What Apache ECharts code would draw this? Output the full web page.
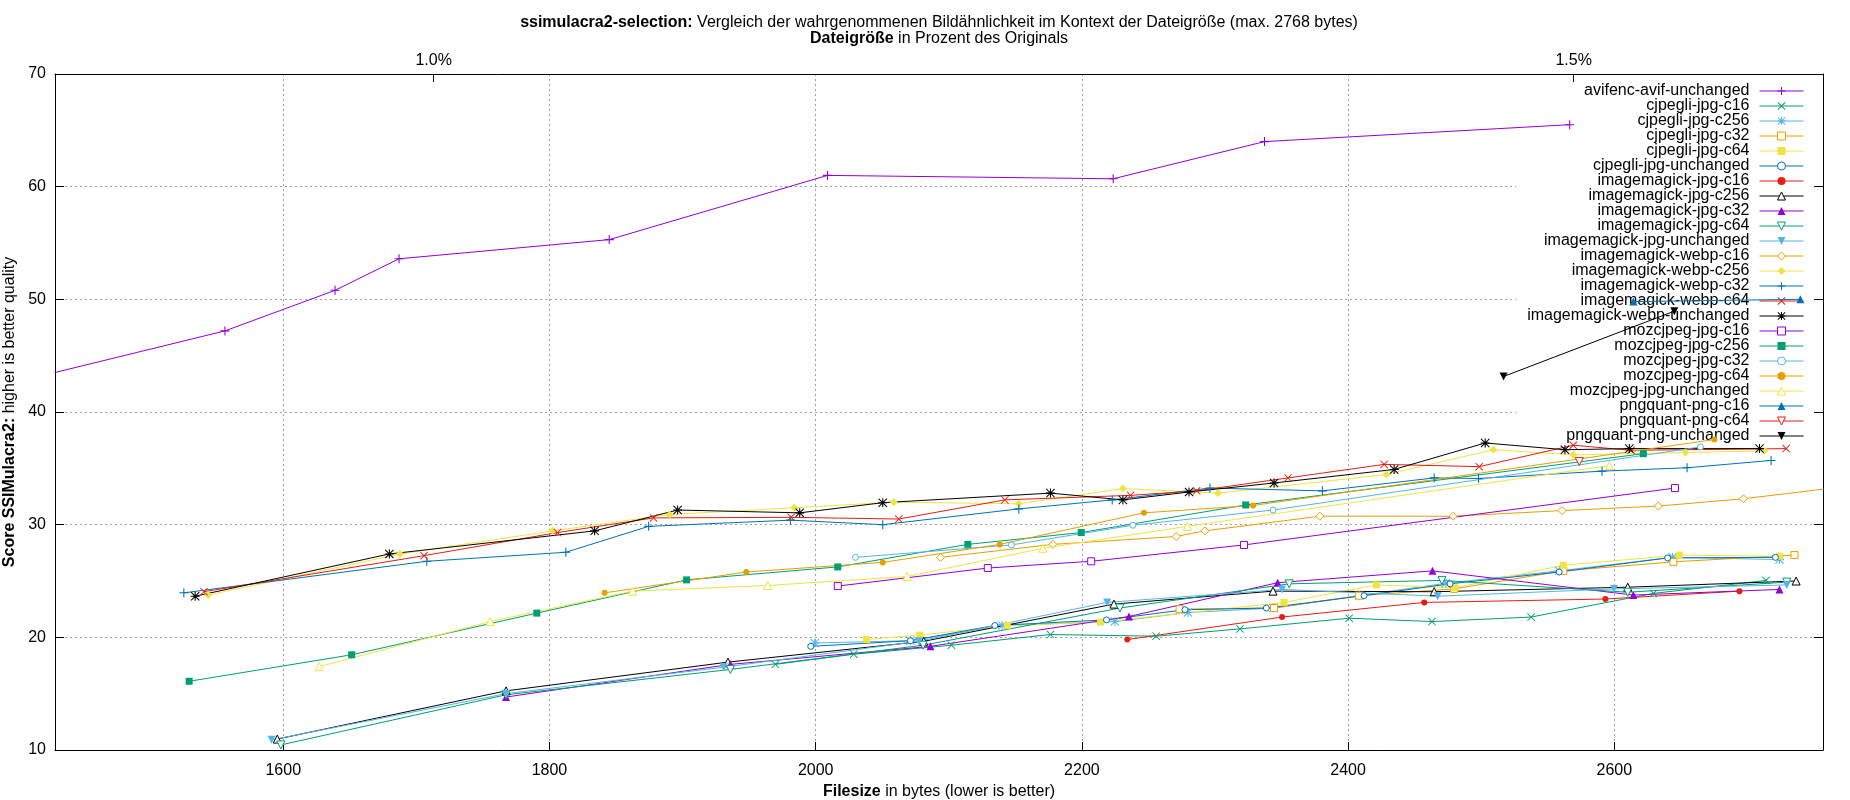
<!DOCTYPE html>
<html>
<head>
<meta charset="utf-8">
<title>ssimulacra2-selection</title>
<script src="https://cdn.jsdelivr.net/npm/echarts@6/dist/echarts.min.js"></script>
<style>
    html, body { margin: 0; padding: 0; background: #fff; }
    #chart { width: 1850px; height: 800px; }
</style>
</head>
<body>
<div id="chart"></div>
<script>
// size of the original image in bytes, for the percent axis on top
const originalBytes = 171300;
const percentTicks = [1.0, 1.5];

const seriesNames = [
    'avifenc-avif-unchanged',
    'cjpegli-jpg-c16', 'cjpegli-jpg-c256', 'cjpegli-jpg-c32', 'cjpegli-jpg-c64', 'cjpegli-jpg-unchanged',
    'imagemagick-jpg-c16', 'imagemagick-jpg-c256', 'imagemagick-jpg-c32', 'imagemagick-jpg-c64', 'imagemagick-jpg-unchanged',
    'imagemagick-webp-c16', 'imagemagick-webp-c256', 'imagemagick-webp-c32', 'imagemagick-webp-c64', 'imagemagick-webp-unchanged',
    'mozcjpeg-jpg-c16', 'mozcjpeg-jpg-c256', 'mozcjpeg-jpg-c32', 'mozcjpeg-jpg-c64', 'mozcjpeg-jpg-unchanged',
    'pngquant-png-c16', 'pngquant-png-c64', 'pngquant-png-unchanged'
];

// [filesize in bytes, ssimulacra2 score]
const avifencAvifUnchanged = [[1428.3, 43.5], [1556.2, 47.2], [1638.9, 50.8], [1687.0, 53.6], [1844.9, 55.3], [2008.9, 61.0], [2223.5, 60.7], [2337.2, 64.0], [2566.5, 65.5]];
const cjpegliJpgC16 = [[1969.7, 17.6], [2028.6, 18.5], [2102, 19.3], [2176.4, 20.25], [2255.8, 20.1], [2318.8, 20.75], [2400.8, 21.7], [2463, 21.4], [2537.5, 21.8], [2629.5, 23.9], [2714, 25.05]];
const cjpegliJpgC256 = [[1999.3, 19.5], [2071.2, 19.7], [2140.1, 21.05], [2224.8, 21.4], [2279.7, 22.2], [2343.9, 22.6], [2408.3, 23.7], [2473.5, 24.8], [2558.6, 25.9], [2643.8, 27.1], [2724.1, 26.9]];
const cjpegliJpgC32 = [[2273.4, 22.5], [2344.4, 22.6], [2408.3, 23.7], [2479.7, 24.3], [2561.7, 25.9], [2644.4, 26.7], [2735.4, 27.3]];
const cjpegliJpgC64 = [[2038.1, 19.8], [2078.2, 20.2], [2143.9, 21.05], [2214, 21.35], [2351.9, 23.1], [2421.3, 24.65], [2480.2, 24.4], [2561.7, 26.4], [2648.9, 27.3], [2724.1, 27.2]];
const cjpegliJpgUnchanged = [[1996.3, 19.2], [2071.2, 19.7], [2134.6, 21.05], [2218.5, 21.55], [2277.4, 22.45], [2338.6, 22.6], [2412, 23.7], [2476.6, 24.75], [2558.6, 25.8], [2640.1, 27.05], [2721.1, 27.1]];
const imagemagickJpgC16 = [[2234.1, 19.8], [2350.4, 21.8], [2457.2, 23.1], [2593.3, 23.4], [2694, 24.1]];
const imagemagickJpgC256 = [[1595.5, 10.97], [1767.4, 15.25], [1934.1, 17.8], [2081.2, 19.65], [2224.1, 22.95], [2343.6, 24.1], [2464.7, 24.05], [2610.1, 24.45], [2736.6, 25.0]];
const imagemagickJpgC32 = [[1767.4, 14.7], [1935.9, 17.6], [2086.2, 19.2], [2235.4, 21.85], [2347.1, 24.85], [2463.4, 25.9], [2614.3, 23.75], [2724.1, 24.25]];
const imagemagickJpgC64 = [[1598.2, 10.45], [1767.4, 14.9], [1935.9, 17.15], [2080.7, 19.3], [2228.6, 22.6], [2355.7, 24.75], [2470.5, 25.05], [2610.1, 24.0], [2729.6, 24.9]];
const imagemagickJpgUnchanged = [[1591.2, 10.9], [1767.4, 15.0], [1930.9, 17.35], [2077.5, 19.65], [2219, 23.1], [2350.4, 24.25], [2467.3, 23.65], [2599.8, 24.3], [2729.6, 24.65]];
const imagemagickWebpC16 = [[2093.8, 27.1], [2178.2, 28.25], [2270.9, 28.95], [2292.5, 29.45], [2378.7, 30.75], [2479, 30.75], [2560.7, 31.25], [2633.1, 31.65], [2697, 32.3], [2757.2, 33.15]];
const imagemagickWebpC256 = [[1543.6, 23.75], [1687.7, 27.4], [1802.3, 29.45], [1890.3, 30.9], [1984, 31.5], [2058.7, 32.0], [2152.6, 31.85], [2230.8, 33.2], [2302.3, 32.8], [2428.8, 34.45], [2509.1, 36.65], [2569.2, 36.2], [2653.4, 36.4], [2712.8, 36.55]];
const imagemagickWebpC32 = [[1525.3, 23.95], [1707.8, 26.75], [1812.3, 27.55], [1874.5, 29.85], [1981, 30.4], [2050.4, 30.0], [2152.6, 31.4], [2222.8, 32.2], [2296.2, 33.25], [2380.7, 33.0], [2464.7, 34.15], [2498, 34.1], [2590.8, 34.75], [2654.7, 35.05], [2717.8, 35.7]];
const imagemagickWebpC64 = [[1540.4, 24.05], [1705.8, 27.25], [1806, 29.3], [1878.2, 30.6], [1981.5, 30.65], [2062.4, 30.5], [2142.1, 32.2], [2236.6, 32.6], [2286.2, 33.0], [2354.9, 34.15], [2427.1, 35.35], [2498.5, 35.15], [2569.2, 37.05], [2612.6, 36.6], [2729.1, 36.75]];
const imagemagickWebpUnchanged = [[1533.8, 23.65], [1679.7, 27.4], [1833.9, 29.45], [1896.3, 31.3], [1988, 31.05], [2050.4, 31.95], [2176.4, 32.8], [2230.8, 32.2], [2280.5, 32.9], [2344.4, 33.7], [2434.6, 34.9], [2503, 37.25], [2562.9, 36.65], [2611.3, 36.75], [2709.1, 36.75]];
const mozcjpegJpgC16 = [[2016.6, 24.55], [2129.3, 26.15], [2207, 26.75], [2321.8, 28.2], [2645.6, 33.25]];
const mozcjpegJpgC256 = [[1529.3, 16.1], [1651.4, 18.45], [1790.5, 22.15], [1903, 25.1], [2016.6, 26.25], [2114.3, 28.25], [2199.5, 29.3], [2323.1, 31.75], [2621.8, 36.3]];
const mozcjpegJpgC32 = [[2029.9, 27.1], [2147.1, 28.2], [2238.3, 29.95], [2343.6, 31.3], [2664.7, 36.9]];
const mozcjpegJpgC64 = [[1841.4, 23.95], [1947.9, 25.8], [2050.4, 26.65], [2138.3, 28.25], [2246.6, 31.05], [2328.6, 31.7], [2675.2, 37.55]];
const mozcjpegJpgUnchanged = [[1627.1, 17.4], [1755.4, 21.4], [1862.4, 24.1], [1963.9, 24.6], [2068.7, 25.4], [2170.7, 27.9], [2279.2, 29.85], [2596.3, 35.25]];
const pngquantPngC16 = [[2614.3, 49.8], [2739.8, 50.0]];
const pngquantPngC64 = [[2573.7, 35.6]];
const pngquantPngUnchanged = [[2516.8, 43.15], [2645.1, 48.95]];

const seriesData = [
    avifencAvifUnchanged,
    cjpegliJpgC16, cjpegliJpgC256, cjpegliJpgC32, cjpegliJpgC64, cjpegliJpgUnchanged,
    imagemagickJpgC16, imagemagickJpgC256, imagemagickJpgC32, imagemagickJpgC64, imagemagickJpgUnchanged,
    imagemagickWebpC16, imagemagickWebpC256, imagemagickWebpC32, imagemagickWebpC64, imagemagickWebpUnchanged,
    mozcjpegJpgC16, mozcjpegJpgC256, mozcjpegJpgC32, mozcjpegJpgC64, mozcjpegJpgUnchanged,
    pngquantPngC16, pngquantPngC64, pngquantPngUnchanged
];

// gnuplot default line colours (cycle of 8) and point types (cycle of 13)
const colors = ['#9400d3', '#009e73', '#56b4e9', '#e69f00', '#f0e442', '#0072b2', '#e51e10', '#000000'];

const PLUS = 'M0,4.4H10V5.6H0Z M4.4,0H5.6V10H4.4Z';
const CROSS = 'M0.8,0L5,4.2L9.2,0L10,0.8L5.8,5L10,9.2L9.2,10L5,5.8L0.8,10L0,9.2L4.2,5L0,0.8Z';
const pointTypes = [
    { symbol: 'path://' + PLUS, size: 9, hollow: false },
    { symbol: 'path://' + CROSS, size: 8, hollow: false },
    { symbol: 'path://' + PLUS + ' ' + CROSS, size: 9, hollow: false },
    { symbol: 'rect', size: 7, hollow: true },
    { symbol: 'rect', size: 7, hollow: false },
    { symbol: 'circle', size: 6, hollow: true },
    { symbol: 'circle', size: 6, hollow: false },
    { symbol: 'triangle', size: 8, hollow: true },
    { symbol: 'triangle', size: 8, hollow: false },
    { symbol: 'triangle', size: 8, hollow: true, rotate: 180 },
    { symbol: 'triangle', size: 8, hollow: false, rotate: 180 },
    { symbol: 'diamond', size: 8, hollow: true },
    { symbol: 'diamond', size: 8, hollow: false }
];

const FONT = 'Liberation Sans, Arial, sans-serif';
const X_MIN = 1428.5;
const X_MAX = 2756.8;

function markStyle(i) {
    const c = colors[i % colors.length];
    const pt = pointTypes[i % pointTypes.length];
    return {
        c: c,
        pt: pt,
        itemStyle: {
            color: pt.hollow ? '#ffffff' : c,
            borderColor: c,
            borderWidth: pt.hollow ? 1 : 0
        },
        lineStyle: { color: c, width: 1, type: 'solid' }
    };
}

const series = seriesNames.map(function (name, i) {
    const s = markStyle(i);
    return {
        name: name,
        type: 'line',
        data: seriesData[i],
        xAxisIndex: 0,
        yAxisIndex: 0,
        symbol: s.pt.symbol,
        symbolSize: s.pt.size,
        symbolRotate: s.pt.rotate || 0,
        showSymbol: true,
        showAllSymbol: true,
        lineStyle: s.lineStyle,
        itemStyle: s.itemStyle,
        emphasis: { disabled: true },
        silent: true
    };
});

const legendData = seriesNames.map(function (name, i) {
    const s = markStyle(i);
    return { name: name, itemStyle: s.itemStyle, lineStyle: s.lineStyle };
});

const gridLine = { show: true, showMinLine: false, showMaxLine: false, lineStyle: { color: '#a0a0a0', type: [2, 3], width: 1 } };
const frame = { show: true, onZero: false, lineStyle: { color: '#000', width: 1 } };
const tickLabel = { color: '#000', fontSize: 16, fontFamily: FONT };

const option = {
    animation: false,
    backgroundColor: '#fff',
    textStyle: { fontFamily: FONT },
    title: {
        text: '{b|ssimulacra2-selection:} Vergleich der wahrgenommenen Bildähnlichkeit im Kontext der Dateigröße (max. 2768 bytes)\n{b|Dateigröße} in Prozent des Originals',
        left: 939,
        top: 15,
        textAlign: 'center',
        padding: 0,
        textStyle: {
            fontSize: 16, fontWeight: 'normal', color: '#000', fontFamily: FONT, lineHeight: 16,
            rich: { b: { fontSize: 16, fontWeight: 'bold', color: '#000', fontFamily: FONT, lineHeight: 16 } }
        }
    },
    grid: { left: 55, right: 27, top: 74, bottom: 50, containLabel: false, outerBoundsMode: 'none' },
    legend: {
        data: legendData,
        orient: 'vertical',
        align: 'right',
        right: 27,
        top: 74,
        padding: [9, 19, 7, 11],
        itemGap: -1.0,
        itemWidth: 44,
        itemHeight: 10,
        selectedMode: false,
        backgroundColor: '#fff',
        z: 1,
        textStyle: { fontSize: 16, color: '#000', fontFamily: FONT, lineHeight: 14.9, padding: [0, 5, 0, 0] }
    },
    xAxis: [
        {
            type: 'value',
            position: 'bottom',
            min: X_MIN,
            max: X_MAX,
            splitNumber: 6,
            name: '{b|Filesize} in bytes (lower is better)',
            nameLocation: 'middle',
            nameGap: 28,
            nameTextStyle: { color: '#000', fontSize: 16, fontFamily: FONT, rich: { b: { fontWeight: 'bold', fontSize: 16, fontFamily: FONT, color: '#000' } } },
            axisLine: frame,
            axisTick: { show: true, inside: true, length: 8, lineStyle: { color: '#000' } },
            axisLabel: Object.assign({
                margin: 13, showMinLabel: false, showMaxLabel: false,
                formatter: function (v) { return String(v); }
            }, tickLabel),
            splitLine: gridLine
        },
        {
            type: 'value',
            position: 'top',
            min: X_MIN,
            max: X_MAX,
            z: 3,
            axisLine: frame,
            axisTick: {
                show: true, inside: true, length: 8, lineStyle: { color: '#000' },
                customValues: percentTicks.map(function (p) { return p / 100 * originalBytes; })
            },
            axisLabel: Object.assign({
                margin: 5,
                customValues: percentTicks.map(function (p) { return p / 100 * originalBytes; }),
                formatter: function (v) { return (v / originalBytes * 100).toFixed(1) + '%'; }
            }, tickLabel),
            splitLine: { show: false }
        }
    ],
    yAxis: [
        {
            type: 'value',
            position: 'left',
            min: 10,
            max: 70,
            interval: 10,
            name: '{b|Score SSIMulacra2:} higher is better quality',
            nameLocation: 'middle',
            nameGap: 33,
            nameRotate: 90,
            nameTextStyle: { color: '#000', fontSize: 16, fontFamily: FONT, rich: { b: { fontWeight: 'bold', fontSize: 16, fontFamily: FONT, color: '#000' } } },
            axisLine: frame,
            axisTick: { show: true, inside: true, length: 9, lineStyle: { color: '#000' } },
            axisLabel: Object.assign({ margin: 9 }, tickLabel),
            splitLine: gridLine
        },
        {
            type: 'value',
            position: 'right',
            min: 10,
            max: 70,
            interval: 10,
            z: 3,
            axisLine: frame,
            axisTick: { show: true, inside: true, length: 9, lineStyle: { color: '#000' } },
            axisLabel: { show: false },
            splitLine: { show: false }
        }
    ],
    series: series
};

const chart = echarts.init(document.getElementById('chart'), null, { renderer: 'canvas' });
chart.setOption(option);
</script>
</body>
</html>
